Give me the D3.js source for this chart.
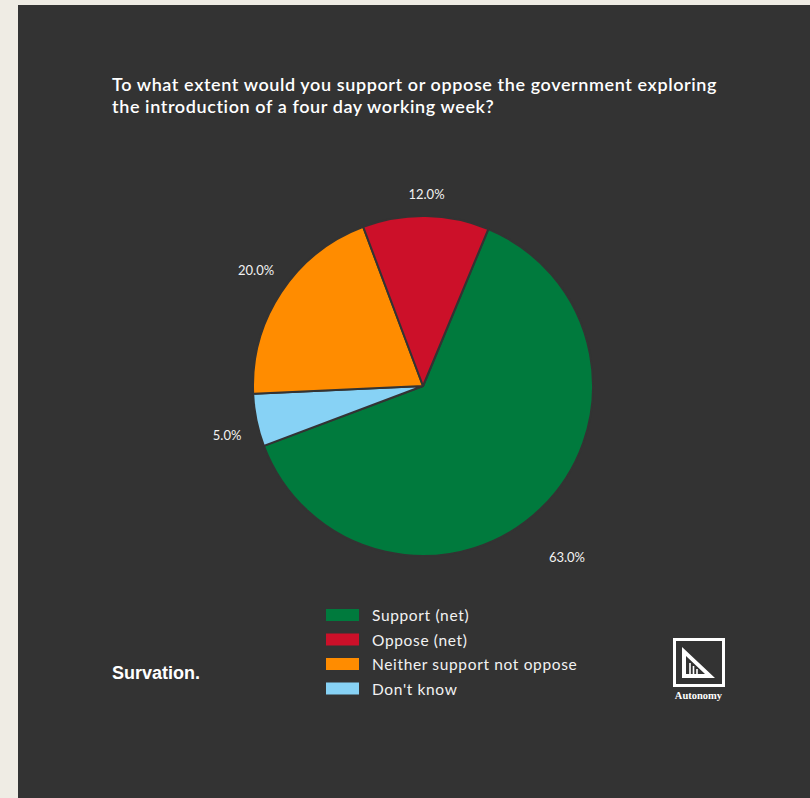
<!DOCTYPE html>
<html>
<head>
<meta charset="utf-8">
<script src="https://cdn.jsdelivr.net/npm/d3@7"></script>
<style>
  html, body { margin: 0; padding: 0; background: #efece4; }
  svg { display: block; }
</style>
</head>
<body>
<svg id="chart" width="810" height="798"></svg>
<script>
// ---- data ----
const categories = ["Support (net)", "Oppose (net)", "Neither support not oppose", "Don't know"];
const values = [63.0, 12.0, 20.0, 5.0];
const colors = ["#007a3d", "#cc1029", "#ff8c00", "#87d2f5"];
const sliceOrder = ["Support (net)", "Don't know", "Neither support not oppose", "Oppose (net)"];
const titleLines = [
  "To what extent would you support or oppose the government exploring",
  "the introduction of a four day working week?"
];
const sourceText = "Survation.";
const logoText = "Autonomy";

const svg = d3.select("#chart");
const W = 810, H = 798;

// panel
svg.append("rect").attr("x", 0).attr("y", 0).attr("width", W).attr("height", H).attr("fill", "#efece4");
svg.append("rect").attr("x", 18).attr("y", 5).attr("width", W - 18).attr("height", H - 5).attr("fill", "#333333");

// title
const title = svg.append("text")
  .attr("x", 112).attr("y", 91)
  .attr("fill", "#ffffff")
  .style("font-family", "Lato, 'Noto Sans', sans-serif")
  .style("font-size", "18px")
  .style("font-weight", "600")
  .style("letter-spacing", "0.6px");
title.selectAll("tspan").data(titleLines).join("tspan")
  .attr("x", 112).attr("dy", (d, i) => i === 0 ? 0 : 22).text(d => d);

// pie
const cx = 423, cy = 386, R = 170;
const color = d3.scaleOrdinal().domain(categories).range(colors);
const data = sliceOrder.map(c => ({ cat: c, value: values[categories.indexOf(c)] }));
const startDeg = 22.6;
const pie = d3.pie().sort(null).value(d => d.value)
  .startAngle(startDeg * Math.PI / 180)
  .endAngle((startDeg + 360) * Math.PI / 180);
const arc = d3.arc().innerRadius(0).outerRadius(R);
const arcs = pie(data);

const g = svg.append("g").attr("transform", `translate(${cx},${cy})`);
g.selectAll("path").data(arcs).join("path")
  .attr("d", arc)
  .attr("fill", d => color(d.data.cat))
  .attr("stroke", "#333333")
  .attr("stroke-width", 2)
  .attr("stroke-linejoin", "round");

// labels
const labelR = 182;
g.selectAll("text.lbl").data(arcs).join("text")
  .attr("class", "lbl")
  .attr("fill", "#f2f2f2")
  .style("font-family", "Lato, 'Noto Sans', sans-serif")
  .style("font-size", "13px")
  .attr("text-anchor", "middle")
  .attr("dominant-baseline", "central")
  .attr("transform", d => {
    const a = (d.startAngle + d.endAngle) / 2;
    const s = Math.sin(a), c = -Math.cos(a);
    const x = (labelR + 18) * s + (c > 0.6 ? 5 : 0);
    const y = (labelR + 10) * c + (c > 0.6 ? 33 : 0) + (Math.abs(c) < 0.6 ? 10 * Math.sign(c) : 0);
    return `translate(${x},${y})`;
  })
  .text(d => d3.format(".1f")(d.data.value) + "%");

// legend
const lg = svg.append("g").attr("transform", "translate(326,609)");
const rows = lg.selectAll("g").data(categories).join("g")
  .attr("transform", (d, i) => `translate(0,${i * 24.5})`);
rows.append("rect").attr("width", 33).attr("height", 12).attr("fill", d => color(d));
rows.append("text")
  .attr("x", 46).attr("y", 6)
  .attr("dominant-baseline", "central")
  .attr("fill", "#f2f2f2")
  .style("font-family", "Lato, 'Noto Sans', sans-serif")
  .style("font-size", "15.5px")
  .style("letter-spacing", "0.65px")
  .text(d => d);

// source
svg.append("text")
  .attr("x", 112).attr("y", 679)
  .attr("fill", "#ffffff")
  .style("font-family", "'Liberation Sans', Arial, sans-serif")
  .style("font-weight", "bold")
  .style("font-size", "18px")
  .text(sourceText);

// logo
const logo = svg.append("g").attr("transform", "translate(673,638)");
logo.append("rect").attr("x", 1.5).attr("y", 1.5).attr("width", 49).attr("height", 46)
  .attr("fill", "none").attr("stroke", "#ffffff").attr("stroke-width", 3);
logo.append("path")
  .attr("d", "M9,9 L9,40 L42,40 Z M13,18 L13,36 L32,36 Z")
  .attr("fill", "#ffffff").attr("fill-rule", "evenodd");
logo.append("path")
  .attr("d", "M17,25 L17,36 M20.5,28 L20.5,36 M24,31 L24,36")
  .attr("stroke", "#ffffff").attr("stroke-width", 1.6);
logo.append("text")
  .attr("x", 25.5).attr("y", 61)
  .attr("text-anchor", "middle")
  .attr("fill", "#ffffff")
  .style("font-family", "'Liberation Serif', 'DejaVu Serif', serif")
  .style("font-weight", "bold")
  .style("font-size", "10.5px")
  .text(logoText);
</script>
</body>
</html>
